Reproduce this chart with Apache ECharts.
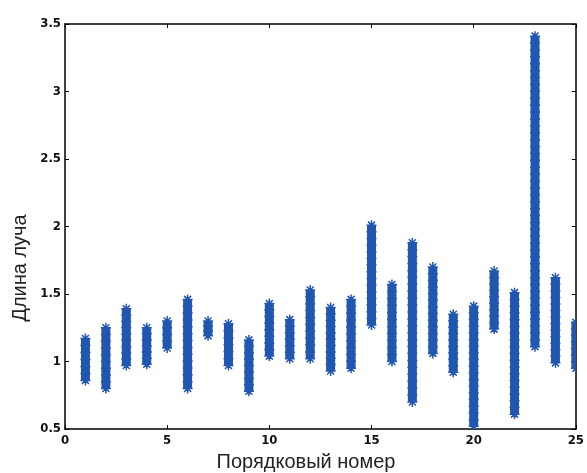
<!DOCTYPE html>
<html>
<head>
<meta charset="utf-8">
<script src="https://cdn.jsdelivr.net/npm/echarts@6/dist/echarts.min.js"></script>
<style>
  html, body { margin: 0; padding: 0; background: #fff; }
  #chart { width: 587px; height: 473px; }
</style>
</head>
<body>
<div id="chart"></div>
<script>
// Номера лучей и диапазоны длин (нижняя / верхняя граница)
const numeros = [1, 2, 3, 4, 5, 6, 7, 8, 9, 10, 11, 12, 13, 14, 15, 16, 17, 18, 19, 20, 21, 22, 23, 24, 25];
const minimos = [0.86, 0.80, 0.97, 0.98, 1.10, 0.80, 1.19, 0.97, 0.78, 1.04, 1.02, 1.02, 0.93, 0.95, 1.27, 1.00, 0.70, 1.06, 0.92, 0.52, 1.24, 0.61, 1.11, 0.99, 0.95];
const maximos = [1.17, 1.25, 1.39, 1.25, 1.30, 1.46, 1.30, 1.28, 1.16, 1.43, 1.31, 1.53, 1.40, 1.46, 2.01, 1.57, 1.88, 1.70, 1.35, 1.41, 1.67, 1.51, 3.41, 1.62, 1.29];
const ticksX = [0, 5, 10, 15, 20, 25];
const ticksY = [0.5, 1, 1.5, 2, 2.5, 3, 3.5];

const azul = '#2157b0';
const fuenteTicks = { fontFamily: 'DejaVu Sans Condensed, Liberation Sans, sans-serif', fontWeight: 'bold', fontSize: 13, color: '#111' };
const fuenteNombre = { fontFamily: 'Liberation Sans, Arial, sans-serif', fontSize: 20, fill: '#222' };

const datos = numeros.map((n, i) => [n, minimos[i], maximos[i]]);

// dibuja una columna de asteriscos entre el mínimo y el máximo
const dibujarColumna = (params, api) => {
  const x = api.value(0);
  const arriba = api.coord([x, api.value(2)]);
  const abajo = api.coord([x, api.value(1)]);
  const cx = arriba[0];
  const alto = abajo[1] - arriba[1];
  const hijos = [{
    type: 'rect',
    shape: { x: cx - 4.5, y: arriba[1], width: 9, height: alto },
    style: { fill: azul }
  }];
  const r = 5;
  const d = r * 0.7;
  const n = Math.max(1, Math.ceil(alto / 7));
  let camino = '';
  for (let k = 0; k <= n; k++) {
    const y = arriba[1] + alto * k / n;
    camino += `M${cx - r} ${y}L${cx + r} ${y}M${cx} ${y - r}L${cx} ${y + r}` +
      `M${cx - d} ${y - d}L${cx + d} ${y + d}M${cx - d} ${y + d}L${cx + d} ${y - d}`;
  }
  hijos.push({
    type: 'path',
    shape: { pathData: camino },
    style: { stroke: azul, lineWidth: 1.5, fill: null }
  });
  const cs = params.coordSys;
  return {
    type: 'group',
    children: hijos,
    clipPath: { type: 'rect', shape: { x: cs.x, y: cs.y, width: cs.width, height: cs.height } }
  };
};

const ejeX = (mostrar) => ({
  type: 'value', min: ticksX[0], max: ticksX[ticksX.length - 1], interval: 5,
  position: mostrar ? 'bottom' : 'top',
  axisLine: { show: true, onZero: false, lineStyle: { color: '#000', width: 1.5 } },
  axisTick: { show: true, inside: true, length: 4, lineStyle: { color: '#000' } },
  axisLabel: Object.assign({ show: mostrar, margin: 5 }, fuenteTicks),
  splitLine: { show: false }
});

const ejeY = (mostrar) => ({
  type: 'value', min: ticksY[0], max: ticksY[ticksY.length - 1], interval: 0.5,
  position: mostrar ? 'left' : 'right',
  axisLine: { show: true, onZero: false, lineStyle: { color: '#000', width: 1.5 } },
  axisTick: { show: true, inside: true, length: 4, lineStyle: { color: '#000' } },
  axisLabel: Object.assign({ show: mostrar, margin: 4 }, fuenteTicks),
  splitLine: { show: false }
});

const grafico = echarts.init(document.getElementById('chart'), null, { renderer: 'canvas' });
grafico.setOption({
  animation: false,
  backgroundColor: '#fff',
  grid: { left: 65, right: 9, top: 24, bottom: 44 },
  xAxis: [ejeX(true), ejeX(false)],
  yAxis: [ejeY(true), ejeY(false)],
  graphic: [
    {
      type: 'text', x: 306, y: 462,
      style: Object.assign({ text: 'Порядковый номер', align: 'center', verticalAlign: 'middle' }, fuenteNombre)
    },
    {
      type: 'text', x: 20, y: 268, rotation: Math.PI / 2,
      style: Object.assign({ text: 'Длина луча', align: 'center', verticalAlign: 'middle' }, fuenteNombre)
    }
  ],
  series: [{
    type: 'custom',
    renderItem: dibujarColumna,
    data: datos,
    encode: { x: 0, y: [1, 2] }
  }]
});
</script>
</body>
</html>
